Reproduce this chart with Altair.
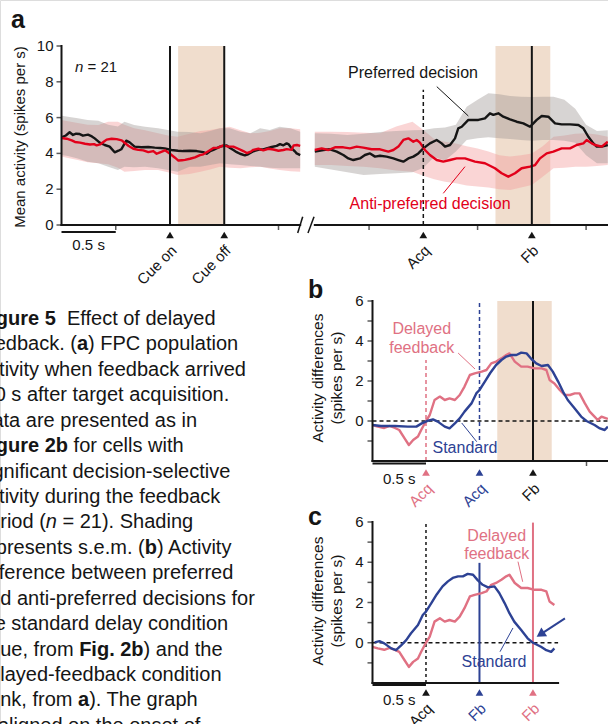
import altair as alt
import pandas as pd

FONT = "Liberation Sans"
INK = "#151515"
RED = "#e2001a"
PINK = "#e07183"
BLUE = "#2d4294"
PEACH = "#f0ddcd"
GRAY_SEM = "#9a9491"
RED_SEM = "#f39a9a"

# ---------------- Panel a: population activity (spikes per s) ----------------
# Cue epoch, time from cue onset (s)
cue_pref_t = [-1.0, -0.96, -0.925, -0.894, -0.865, -0.832, -0.802, -0.756, -0.72, -0.694,
              -0.648, -0.602, -0.556, -0.51, -0.475, -0.449, -0.403, -0.372, -0.326, -0.264,
              -0.2, -0.141, -0.09, -0.049, 0.012, 0.074, 0.12, 0.184, 0.246, 0.276,
              0.307, 0.338, 0.369, 0.4, 0.461, 0.522, 0.553, 0.584, 0.615, 0.645,
              0.69, 0.72, 0.768, 0.83, 0.86, 0.89, 0.937, 0.983, 1.014, 1.045,
              1.075, 1.095, 1.121, 1.15, 1.167, 1.2]
cue_pref = [4.90, 5.0, 5.18, 5.03, 5.1, 5.08, 4.99, 5.05, 4.95, 4.84,
            4.6, 4.47, 4.38, 4.06, 4.15, 4.23, 4.71, 4.62, 4.38, 4.34,
            4.36, 4.32, 4.3, 4.28, 4.19, 4.15, 4.13, 4.15, 4.13, 4.1,
            4.07, 3.98, 4.12, 4.2, 4.38, 4.45, 4.3, 4.19, 4.07, 3.98,
            3.89, 3.95, 4.12, 4.22, 4.22, 4.28, 4.36, 4.42, 4.52, 4.45,
            4.56, 4.5, 4.28, 4.12, 4.0, 3.9]
cue_anti_t = [-1.0, -0.952, -0.906, -0.876, -0.829, -0.783, -0.737, -0.7, -0.676, -0.645,
              -0.614, -0.584, -0.538, -0.492, -0.445, -0.415, -0.384, -0.338, -0.292, -0.246,
              -0.2, -0.154, -0.123, -0.092, -0.046, 0.0, 0.046, 0.077, 0.11, 0.138,
              0.184, 0.23, 0.276, 0.307, 0.353, 0.4, 0.445, 0.49, 0.538, 0.584,
              0.63, 0.676, 0.707, 0.745, 0.768, 0.814, 0.86, 0.906, 0.952, 1.0,
              1.045, 1.075, 1.121, 1.14, 1.17, 1.2]
cue_anti = [4.86, 4.82, 4.73, 4.64, 4.6, 4.54, 4.5, 4.52, 4.45, 4.5,
            4.64, 4.77, 4.82, 4.8, 4.73, 4.58, 4.43, 4.26, 4.2, 4.17,
            4.07, 4.13, 3.98, 4.06, 4.17, 3.98, 3.76, 3.6, 3.62, 3.64,
            3.7, 3.78, 3.9, 3.95, 4.12, 4.3, 4.32, 4.45, 4.38, 4.38,
            4.26, 4.13, 4.02, 4.1, 4.2, 4.26, 4.17, 4.26, 4.22, 4.15,
            4.19, 4.24, 4.2, 4.45, 4.47, 4.42]
cue_sem_t = [-1.0, -0.94, -0.85, -0.76, -0.66, -0.57, -0.48, -0.42, -0.33, -0.23,
             -0.11, -0.02, 0.07, 0.18, 0.28, 0.37, 0.46, 0.55, 0.65, 0.74,
             0.83, 0.92, 1.01, 1.11, 1.2]
cue_pref_hi = [6.1, 6.05, 5.96, 5.87, 5.83, 5.6, 5.5, 5.77, 5.59, 5.49,
               5.4, 5.31, 5.21, 5.2, 5.12, 5.25, 5.4, 5.4, 5.21, 5.12,
               5.4, 5.31, 5.49, 5.4, 5.21]
cue_pref_lo = [3.91, 3.85, 3.72, 3.54, 3.45, 3.26, 3.07, 3.26, 3.22, 3.26,
               3.17, 3.07, 2.98, 3.26, 3.26, 3.35, 3.45, 3.4, 3.35, 3.3,
               3.26, 3.2, 3.17, 3.17, 3.17]
cue_anti_hi = [5.87, 5.8, 5.7, 5.6, 5.59, 5.77, 5.77, 5.6, 5.4, 5.3,
               5.12, 5.0, 4.93, 5.1, 5.25, 5.31, 5.4, 5.49, 5.3, 5.12,
               5.15, 5.25, 5.4, 5.4, 5.35]
cue_anti_lo = [3.82, 3.75, 3.63, 3.5, 3.45, 3.4, 3.2, 2.98, 3.02, 3.07,
               3.07, 2.95, 2.79, 2.85, 2.98, 3.1, 3.26, 3.2, 3.17, 3.22,
               3.26, 3.15, 3.07, 3.0, 2.98]

# Acquisition epoch, time from target acquisition (s)
acq_pref_t = [-1.0, -0.921, -0.86, -0.798, -0.737, -0.691, -0.645, -0.584, -0.538, -0.491,
              -0.445, -0.399, -0.338, -0.276, -0.23, -0.184, -0.138, -0.092, -0.046, 0.0,
              0.061, 0.123, 0.169, 0.2, 0.246, 0.292, 0.322, 0.354, 0.415, 0.507,
              0.568, 0.614, 0.645, 0.691, 0.737, 0.799, 0.86, 0.922, 0.983, 1.014,
              1.045, 1.091, 1.152, 1.214, 1.275, 1.352, 1.429, 1.475, 1.521, 1.567,
              1.598, 1.644, 1.7]
acq_pref = [4.1, 4.19, 4.23, 4.1, 3.91, 3.72, 3.63, 3.72, 3.91, 4.0,
            3.82, 3.87, 3.82, 3.72, 3.63, 3.54, 3.72, 3.82, 4.0, 4.28,
            4.56, 4.75, 4.56, 4.38, 4.47, 4.84, 5.4, 5.49, 5.87, 5.87,
            5.96, 6.24, 6.15, 6.24, 6.05, 5.9, 5.77, 5.68, 5.49, 5.68,
            5.87, 6.09, 6.05, 5.68, 5.62, 5.62, 5.59, 5.4, 4.93, 4.56,
            4.38, 4.38, 4.47]
acq_anti_t = [-1.0, -0.937, -0.875, -0.814, -0.737, -0.676, -0.614, -0.553, -0.476, -0.399,
              -0.322, -0.276, -0.23, -0.184, -0.138, -0.092, -0.061, -0.031, 0.015, 0.061,
              0.123, 0.184, 0.246, 0.307, 0.384, 0.476, 0.568, 0.66, 0.722, 0.783,
              0.845, 0.906, 0.983, 1.03, 1.075, 1.137, 1.198, 1.275, 1.352, 1.413,
              1.475, 1.505, 1.552, 1.582, 1.644, 1.7]
acq_anti = [4.19, 4.28, 4.19, 4.34, 4.34, 4.28, 4.38, 4.32, 4.23, 4.23,
            4.1, 4.19, 4.38, 4.75, 4.84, 4.65, 4.75, 4.6, 4.19, 3.91,
            3.63, 3.54, 3.63, 3.72, 3.72, 3.54, 3.45, 3.17, 2.89, 2.7,
            2.89, 3.17, 3.26, 3.35, 3.72, 4.0, 4.1, 4.28, 4.28, 4.47,
            4.56, 4.75, 4.56, 4.47, 4.38, 4.65]
acq_sem_t = [-1.0, -0.85, -0.7, -0.55, -0.4, -0.25, -0.1, 0.0, 0.1, 0.2,
             0.3, 0.4, 0.5, 0.6, 0.7, 0.8, 0.9, 1.0, 1.1, 1.2,
             1.3, 1.4, 1.5, 1.6, 1.7]
acq_pref_hi = [5.12, 5.1, 5.03, 5.1, 5.2, 5.25, 5.3, 5.31, 5.4, 5.45,
               5.6, 6.6, 7.0, 7.36, 7.3, 7.2, 7.17, 7.15, 7.17, 7.17,
               7.0, 6.5, 5.6, 5.25, 5.3]
acq_pref_lo = [3.26, 3.1, 2.95, 2.79, 2.85, 2.89, 2.95, 3.2, 3.8, 3.6,
               4.1, 4.75, 4.84, 4.9, 4.85, 4.8, 4.75, 4.7, 4.75, 4.75,
               4.7, 4.6, 3.9, 3.45, 3.45]
acq_anti_hi = [5.21, 5.21, 5.2, 5.15, 5.12, 5.5, 5.77, 5.31, 4.8, 4.65,
               4.56, 4.4, 4.28, 4.1, 3.9, 3.82, 3.9, 4.0, 4.4, 4.93,
               5.0, 5.1, 5.12, 5.05, 4.93]
acq_anti_lo = [3.35, 3.35, 3.3, 3.25, 3.17, 3.05, 2.98, 2.75, 2.55, 2.42,
               2.33, 2.2, 2.15, 2.1, 2.0, 1.96, 2.1, 2.23, 2.7, 3.17,
               3.2, 3.25, 3.26, 3.3, 3.35]

# ------------- Panels b, c: preferred minus anti-preferred (spikes per s) -------------
# time from target acquisition (s) in each condition
delayed_t = [-0.5, -0.45, -0.39, -0.34, -0.29, -0.25, -0.2, -0.16, -0.12, -0.075,
             -0.045, 0.0, 0.035, 0.08, 0.13, 0.175, 0.22, 0.27, 0.315, 0.36,
             0.41, 0.455, 0.52, 0.565, 0.61, 0.655, 0.705, 0.75, 0.78, 0.83,
             0.89, 0.95, 1.015, 1.08, 1.125, 1.155, 1.2, 1.25, 1.295, 1.345,
             1.39, 1.435, 1.485, 1.53, 1.575, 1.605, 1.64, 1.685, 1.7]
delayed_diff = [-0.2, -0.28, -0.35, -0.25, -0.35, -0.45, -0.87, -1.2, -0.95, -0.78,
                -0.45, 0.0, 0.3, 1.05, 1.22, 1.05, 1.13, 1.05, 1.3, 1.72,
                2.3, 2.38, 2.47, 2.55, 2.88, 2.97, 3.13, 3.3, 3.38, 2.97,
                2.72, 2.72, 2.63, 2.63, 2.55, 2.05, 1.88, 1.55, 1.3, 1.3,
                1.38, 1.38, 0.88, 0.47, 0.22, 0.05, 0.22, 0.13, 0.1]
standard_t = [-1.0, -0.92, -0.79, -0.67, -0.59, -0.54, -0.48, -0.435, -0.39, -0.325,
              -0.28, -0.23, -0.185, -0.14, -0.075, -0.03, 0.0, 0.05, 0.1, 0.155,
              0.205, 0.25, 0.3, 0.345, 0.39, 0.44, 0.485, 0.53, 0.58, 0.64,
              0.685, 0.735, 0.78, 0.825, 0.89, 0.95, 1.0, 1.075, 1.125, 1.17,
              1.2]
standard_diff = [-0.2, -0.25, -0.25, -0.28, -0.28, -0.12, 0.02, 0.08, -0.03, -0.28,
                 -0.37, -0.12, 0.13, 0.47, 0.88, 1.38, 1.55, 1.97, 2.4, 2.8,
                 3.05, 3.22, 3.3, 3.3, 3.42, 3.38, 3.1, 2.88, 2.75, 2.8,
                 2.47, 1.97, 1.47, 1.05, 0.63, 0.22, 0.0, -0.2, -0.37, -0.45,
                 -0.28]
DELAYED_FB = 1.0    # feedback delay after acquisition, delayed condition (s)
STANDARD_FB = 0.5   # feedback delay after acquisition, standard condition (s)

# ---------------- Caption ----------------
caption = [
    [("Figure 5", "b"), ("  Effect of delayed", "r")],
    [("feedback. (", "r"), ("a", "b"), (") FPC population", "r")],
    [("activity when feedback arrived", "r")],
    [("1.0 s after target acquisition.", "r")],
    [("Data are presented as in", "r")],
    [("Figure 2b", "b"), (" for cells with", "r")],
    [("significant decision-selective", "r")],
    [("activity during the feedback", "r")],
    [("period (", "r"), ("n", "i"), (" = 21). Shading", "r")],
    [("represents s.e.m. (", "r"), ("b", "b"), (") Activity", "r")],
    [("difference between preferred", "r")],
    [("and anti-preferred decisions for", "r")],
    [("the standard delay condition", "r")],
    [("(blue, from ", "r"), ("Fig. 2b", "b"), (") and the", "r")],
    [("delayed-feedback condition", "r")],
    [("(pink, from ", "r"), ("a", "b"), ("). The graph", "r")],
    [("is aligned on the onset of", "r")],
]

# glyph advance widths (1/1000 em) used to chain the styled caption segments
ADV = {
    "r": {" ": 278, "(": 333, ")": 333, ".": 278, ",": 278, "a": 556, "b": 556, "c": 500,
          "d": 556, "e": 556, "f": 278, "i": 222, "k": 500, "l": 222, "m": 833, "n": 556,
          "o": 556, "p": 556, "r": 333, "s": 500, "t": 278, "u": 556},
    "b": {" ": 278, ".": 278, "2": 556, "5": 556, "F": 611, "a": 556, "b": 611, "e": 556,
          "g": 611, "i": 278, "r": 389, "u": 611},
    "i": {"n": 556},
}
CAP_SIZE = 20
CAP_LEFT = -22


def seg_width(s, style):
    return sum(ADV[style].get(ch, 556) for ch in s) * CAP_SIZE / 1000.0


# ---------------- scales: each panel maps its data onto its own region ----------------
def lin(domain, rng):
    return alt.Scale(domain=domain, range=rng, nice=False, zero=False)


XA1 = lin([-1.0, 1.2], [61.5, 300.2])
XA2 = lin([-1.0, 1.7], [314.8, 607.8])
YA = lin([0, 10], [225, 46])
XB = lin([-1.5, 0.7], [372.5, 607.9])
YB = lin([-2, 6], [461, 301])
XC = lin([-0.5, 1.235], [372.5, 558.1])
YC = lin([-2, 6], [683, 522])
XP = lin([0, 608], [0, 608])
YCAP = lin([0, 16], [325, 731.9])


def xq(f, sc):
    return alt.X(f, type="quantitative", scale=sc, axis=None)


def yq(f, sc):
    return alt.Y(f, type="quantitative", scale=sc, axis=None)


def curve(t, v, xs, ys, color, width=2.4):
    return alt.Chart(pd.DataFrame({"t": t, "v": v})).mark_line(
        color=color, strokeWidth=width, strokeJoin="round").encode(x=xq("t", xs), y=yq("v", ys))


def band(t, lo, hi, xs, ys, color, opacity):
    return alt.Chart(pd.DataFrame({"t": t, "lo": lo, "hi": hi})).mark_area(
        color=color, opacity=opacity).encode(x=xq("t", xs), y=yq("lo", ys), y2=alt.Y2("hi"))


def shade(t0, t1, v0, v1, xs, ys):
    return alt.Chart(pd.DataFrame({"a": [t0], "b": [t1], "lo": [v0], "hi": [v1]})).mark_rect(
        color=PEACH).encode(x=xq("a", xs), x2=alt.X2("b"), y=yq("lo", ys), y2=alt.Y2("hi"))


def vrule(t, v0, v1, xs, ys, **mk):
    return alt.Chart(pd.DataFrame({"t": [t], "v0": [v0], "v1": [v1]})).mark_rule(**mk).encode(
        x=xq("t", xs), y=yq("v0", ys), y2=alt.Y2("v1"))


def hrule(t0, t1, v, xs, ys, **mk):
    return alt.Chart(pd.DataFrame({"a": [t0], "b": [t1], "v": [v]})).mark_rule(**mk).encode(
        x=xq("a", xs), x2=alt.X2("b"), y=yq("v", ys))


def seg(t0, v0, t1, v1, xs, ys, **mk):
    return alt.Chart(pd.DataFrame({"a": [t0], "b": [t1], "p": [v0], "q": [v1]})).mark_rule(**mk).encode(
        x=xq("a", xs), x2=alt.X2("b"), y=yq("p", ys), y2=alt.Y2("q"))


def label(t, v, s, xs, ys, **mk):
    style = dict(font=FONT, fontSize=15, color=INK, baseline="middle", align="center")
    style.update(mk)
    return alt.Chart(pd.DataFrame({"t": [t], "v": [v], "s": [s]})).mark_text(**style).encode(
        x=xq("t", xs), y=yq("v", ys), text="s:N")


def free_text(x, y, s, **mk):
    style = dict(font=FONT, fontSize=15, color=INK, baseline="middle", align="center")
    style.update(mk)
    return alt.Chart(pd.DataFrame({"s": [s]})).mark_text(**style).encode(
        x=alt.value(x), y=alt.value(y), text="s:N")


def left_axis(xs, ys, t_at, v0, v1, ticks, labels, dx):
    line = vrule(t_at, v0, v1, xs, ys, color=INK, strokeWidth=2, strokeCap="square")
    tk = alt.Chart(pd.DataFrame({"t": [t_at] * len(ticks), "v": ticks})).mark_tick(
        orient="horizontal", size=5, thickness=1.5, xOffset=-2.5, color=INK).encode(
        x=xq("t", xs), y=yq("v", ys))
    lb = alt.Chart(pd.DataFrame({"t": [t_at] * len(labels), "v": labels,
                                 "s": [f"{v:g}" for v in labels]})).mark_text(
        font=FONT, fontSize=15, color=INK, align="right", baseline="middle", dx=dx).encode(
        x=xq("t", xs), y=yq("v", ys), text="s:N")
    return [line, tk, lb]


def bottom_axis(xs, ys, t0, t1, v_at, ticks):
    out = [hrule(t0, t1, v_at, xs, ys, color=INK, strokeWidth=2, strokeCap="square")]
    if ticks:
        out.append(alt.Chart(pd.DataFrame({"t": ticks, "v": [v_at] * len(ticks)})).mark_tick(
            orient="vertical", size=5, thickness=1.5, yOffset=2.5, color=INK).encode(
            x=xq("t", xs), y=yq("v", ys)))
    return out


def scale_bar(xs, t0, t1, y_bar, y_text):
    bar = alt.Chart(pd.DataFrame({"a": [t0], "b": [t1]})).mark_rule(
        color=INK, strokeWidth=2).encode(x=xq("a", xs), x2=alt.X2("b"), y=alt.value(y_bar))
    txt = alt.Chart(pd.DataFrame({"t": [(t0 + t1) / 2], "s": ["0.5 s"]})).mark_text(
        font=FONT, fontSize=15, color=INK, baseline="middle").encode(
        x=xq("t", xs), y=alt.value(y_text), text="s:N")
    return [bar, txt]


COND = alt.Scale(domain=["both", "delayed", "standard"], range=[INK, PINK, BLUE])


def events(t, names, conds, xs, y_tri, y_lab):
    d = pd.DataFrame({"t": t, "s": names, "c": conds})
    color = alt.Color("c:N", scale=COND, legend=None)
    tri = alt.Chart(d).mark_point(shape="triangle-up", filled=True, size=60, opacity=1).encode(
        x=xq("t", xs), y=alt.value(y_tri), color=color)
    txt = alt.Chart(d).mark_text(font=FONT, fontSize=15, angle=315, align="right",
                                 baseline="middle", xOffset=4).encode(
        x=xq("t", xs), y=alt.value(y_lab), text="s:N", color=color)
    return [tri, txt]


layers = []

# ================= panel a =================
layers += [shade(0.075, 0.5, 0, 10, XA1, YA), shade(0.665, 1.17, 0, 10, XA2, YA)]
layers += [
    band(cue_sem_t, cue_anti_lo, cue_anti_hi, XA1, YA, RED_SEM, 0.42),
    band(cue_sem_t, cue_pref_lo, cue_pref_hi, XA1, YA, GRAY_SEM, 0.4),
    band(acq_sem_t, acq_anti_lo, acq_anti_hi, XA2, YA, RED_SEM, 0.42),
    band(acq_sem_t, acq_pref_lo, acq_pref_hi, XA2, YA, GRAY_SEM, 0.4),
    curve(cue_pref_t, cue_pref, XA1, YA, INK),
    curve(cue_anti_t, cue_anti, XA1, YA, RED),
    curve(acq_pref_t, acq_pref, XA2, YA, INK),
    curve(acq_anti_t, acq_anti, XA2, YA, RED),
    vrule(0.0, 0, 10, XA1, YA, color=INK, strokeWidth=2),
    vrule(0.5, 0, 10, XA1, YA, color=INK, strokeWidth=2),
    vrule(0.0, 0, 7.55, XA2, YA, color=INK, strokeWidth=1.5, strokeDash=[4, 3]),
    vrule(1.0, 0, 10, XA2, YA, color=INK, strokeWidth=2),
]
layers += left_axis(XA1, YA, -1.0, 0, 10, [0, 2, 4, 6, 8, 10], [0, 2, 4, 6, 8, 10], -8)
layers += bottom_axis(XA1, YA, -1.0, 1.2, 0, [-0.5, 1.0])
layers += bottom_axis(XA2, YA, -1.0, 1.7, 0, [-0.5, 0.5, 1.5])
layers += [
    seg(1.177, -0.45, 1.223, 0.46, XA1, YA, color=INK, strokeWidth=1.5),
    seg(-1.063, -0.45, -1.007, 0.46, XA2, YA, color=INK, strokeWidth=1.5),
]
layers += scale_bar(XA1, -1.0, -0.5, 232, 245)
layers += events([0.0, 0.5], ["Cue on", "Cue off"], ["both", "both"], XA1, 235, 248)
layers += events([0.0, 1.0], ["Acq", "Fb"], ["both", "both"], XA2, 235, 248)
layers += [
    free_text(20, 137, "Mean activity (spikes per s)", angle=270),
    free_text(11, 28, "a", fontSize=25, fontWeight="bold", align="left", baseline="alphabetic"),
    label(-0.876, 8.83, "n", XA1, YA, fontStyle="italic", align="left"),
    label(-0.76, 8.83, "= 21", XA1, YA, align="left"),
    label(-0.095, 8.49, "Preferred decision", XA2, YA, fontSize=16),
    seg(0.124, 7.73, 0.415, 6.09, XA2, YA, color=INK, strokeWidth=1),
    label(0.062, 1.17, "Anti-preferred decision", XA2, YA, color=RED, fontSize=16),
    seg(0.184, 1.77, 0.384, 3.26, XA2, YA, color=RED, strokeWidth=1),
]

# ================= panel b (aligned on feedback) =================
b_delayed = [(t - DELAYED_FB, v) for t, v in zip(delayed_t, delayed_diff)]
b_standard = [(t - STANDARD_FB, v) for t, v in zip(standard_t, standard_diff)
              if t - STANDARD_FB >= -1.5]
layers += [
    shade(-0.334, 0.175, -2, 6, XB, YB),
    hrule(-1.5, 0.7, 0, XB, YB, color=INK, strokeWidth=1.5, strokeDash=[4, 3]),
    vrule(0.0, -2, 6, XB, YB, color=INK, strokeWidth=2),
    vrule(-STANDARD_FB, -0.95, 6, XB, YB, color=BLUE, strokeWidth=1.5, strokeDash=[4, 3]),
    vrule(-DELAYED_FB, -2, 3.05, XB, YB, color=PINK, strokeWidth=1.5, strokeDash=[4, 3]),
    curve([p[0] for p in b_delayed], [p[1] for p in b_delayed], XB, YB, PINK),
    curve([p[0] for p in b_standard], [p[1] for p in b_standard], XB, YB, BLUE),
]
layers += left_axis(XB, YB, -1.5, -2, 6, [-1, 0, 1, 2, 3, 4, 5, 6], [0, 2, 4, 6], -9)
layers += bottom_axis(XB, YB, -1.5, 0.7, -2, [0.5])
layers += scale_bar(XB, -1.5, -1.0, 463.5, 479)
layers += events([-DELAYED_FB, -STANDARD_FB, 0.0], ["Acq", "Acq", "Fb"],
                 ["delayed", "standard", "both"], XB, 472.5, 486)
layers += [
    free_text(318, 378, "Activity differences", angle=270, fontSize=15.5),
    free_text(337, 378, "(spikes per s)", angle=270, fontSize=15.5),
    free_text(308, 298, "b", fontSize=25, fontWeight="bold", align="left", baseline="alphabetic"),
    label(-1.04, 4.6, "Delayed", XB, YB, color=PINK, fontSize=16),
    label(-1.04, 3.65, "feedback", XB, YB, color=PINK, fontSize=16),
    seg(-0.70, 3.4, -0.542, 2.6, XB, YB, color=PINK, strokeWidth=1),
    label(-0.636, -1.35, "Standard", XB, YB, color=BLUE, fontSize=16),
    seg(-0.666, -0.1, -0.526, -1.035, XB, YB, color=BLUE, strokeWidth=1),
]

# ================= panel c (aligned on acquisition) =================
c_delayed = [(t, v) for t, v in zip(delayed_t, delayed_diff) if t <= 1.21]
c_standard = [(t, v) for t, v in zip(standard_t, standard_diff) if -0.5 <= t <= 1.21]
layers += [
    hrule(-0.5, 1.235, 0, XC, YC, color=INK, strokeWidth=1.5, strokeDash=[4, 3]),
    vrule(0.0, -2, 6, XC, YC, color=INK, strokeWidth=1.5, strokeDash=[3, 3]),
    vrule(STANDARD_FB, -2, 3.97, XC, YC, color=BLUE, strokeWidth=2),
    vrule(DELAYED_FB, -2, 5.97, XC, YC, color=PINK, strokeWidth=2),
    curve([p[0] for p in c_delayed], [p[1] for p in c_delayed], XC, YC, PINK),
    curve([p[0] for p in c_standard], [p[1] for p in c_standard], XC, YC, BLUE),
]
layers += left_axis(XC, YC, -0.5, -2, 6, [-1, 0, 1, 2, 3, 4, 5, 6], [0, 2, 4, 6], -9)
layers += bottom_axis(XC, YC, -0.5, 1.235, -2, [])
layers += scale_bar(XC, -0.5, 0.0, 685, 700)
layers += events([0.0, STANDARD_FB, DELAYED_FB], ["Acq", "Fb", "Fb"],
                 ["both", "standard", "delayed"], XC, 692.5, 706)
layers += [
    free_text(318, 601, "Activity differences", angle=270, fontSize=15.5),
    free_text(337, 601, "(spikes per s)", angle=270, fontSize=15.5),
    free_text(308, 525, "c", fontSize=25, fontWeight="bold", align="left", baseline="alphabetic"),
    label(0.661, 5.3, "Delayed", XC, YC, color=PINK, fontSize=16),
    label(0.661, 4.41, "feedback", XC, YC, color=PINK, fontSize=16),
    seg(0.86, 4.03, 0.904, 3.03, XC, YC, color=PINK, strokeWidth=1),
    label(0.636, -0.96, "Standard", XC, YC, color=BLUE, fontSize=16),
    seg(0.692, -0.445, 0.813, 0.733, XC, YC, color=BLUE, strokeWidth=1),
    # arrow marking where the standard curve returns to zero
    seg(1.299, 1.214, 1.07, 0.42, XC, YC, color=BLUE, strokeWidth=2),
    alt.Chart(pd.DataFrame({"t": [1.07], "v": [0.42]})).mark_point(
        shape="triangle-up", filled=True, size=110, angle=236.5, color=BLUE, opacity=1).encode(
        x=xq("t", XC), y=yq("v", YC)),
]

# ================= caption =================
rows = []
for k, parts in enumerate(caption):
    x = CAP_LEFT
    for text, style in parts:
        # leading blanks collapse in SVG text, so advance past them explicitly
        lead = len(text) - len(text.lstrip(" "))
        x += seg_width(" " * lead, "r")
        body = text.lstrip(" ")
        rows.append({"line": k, "x": x, "s": body, "style": style})
        x += seg_width(body, style)
cap = pd.DataFrame(rows)
for style, extra in [("r", {}), ("b", {"fontWeight": "bold"}), ("i", {"fontStyle": "italic"})]:
    layers.append(
        alt.Chart(cap[cap["style"] == style]).mark_text(
            font=FONT, fontSize=CAP_SIZE, color=INK, align="left", baseline="alphabetic", **extra
        ).encode(x=xq("x", XP), y=yq("line", YCAP), text="s:N"))

chart = alt.layer(*layers).resolve_scale(
    x="independent", y="independent", color="independent"
).properties(
    width=608, height=724, autosize=alt.AutoSizeParams(type="none"), padding=0,
    background="white",
).configure_view(stroke=None).configure(font=FONT)

chart.save("out.html", embed_options={"renderer": "svg", "actions": False})
